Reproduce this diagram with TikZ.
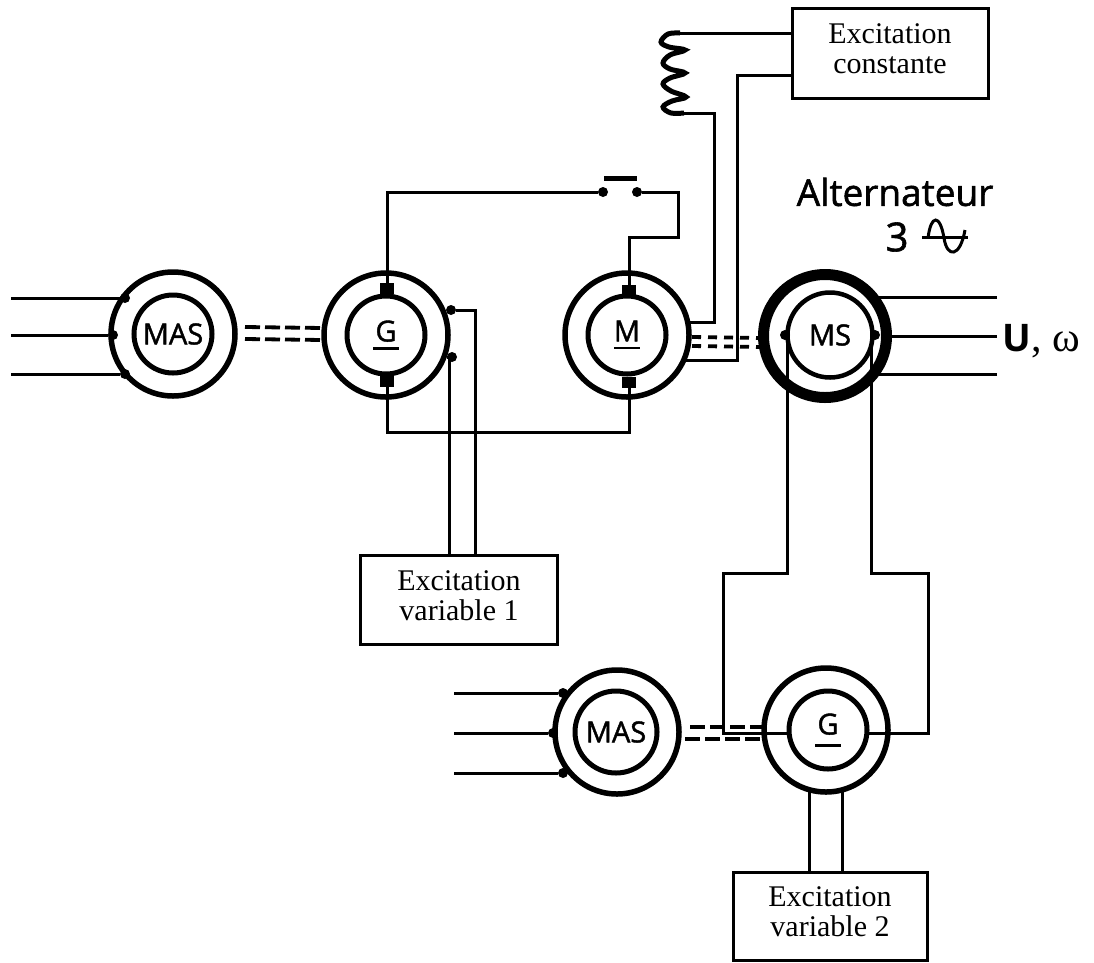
\documentclass[tikz,border=0pt]{standalone}
\usepackage{fontspec}
\setmainfont{Liberation Serif}
\setsansfont{Open Sans}
\newfontfamily\machfont[FakeBold=1.5]{Open Sans}
\usetikzlibrary{positioning}
\newcommand{\machlabel}[2][-21pt]{#2\\[#1]\rule{26pt}{2.8pt}}
\newcommand{\lifted}{\rule[-8pt]{0pt}{0pt}}

\begin{document}
\begin{tikzpicture}[x=1pt,y=-1pt,align=center]
    \tikzstyle{wire} = [line width=3pt,line join=miter]
    \tikzstyle{shaft} = [line width=3.8pt,dash pattern=on 15pt off 5pt]
    \tikzstyle{ring} = [draw,circle,line width=5.5pt,minimum size=124pt,inner sep=0pt,outer sep=0pt]
    \tikzstyle{rotor} = [draw,circle,line width=5pt,minimum size=78pt,inner sep=0pt,outer sep=0pt,font=\machfont\fontsize{29}{29}\selectfont]
    \tikzstyle{brush} = [fill,rectangle,minimum width=14pt,minimum height=11pt,inner sep=0pt,outer sep=0pt]
    \tikzstyle{dot} = [fill,circle,minimum size=10pt,inner sep=0pt,outer sep=0pt]
    \tikzstyle{supply} = [draw,rectangle,line width=3pt,inner sep=0pt,outer sep=0pt,font=\fontsize{30}{30}\selectfont]
      \useasboundingbox (0,0) rectangle (1094,962);
      % three-phase lines leaving the alternator
      \foreach \name/\py in {g/297,h/336,i/374} {
        \coordinate (out\name) at (997,\py);
        \draw[wire] (out\name) -- (820,\py);
      }
      % machines
      \node[ring,fill=white] (MASa) at (173,334) {};
      \node[rotor] (MASaIn) at (173,334) {MAS};
      \node[ring,fill=white] (Ga) at (386,335) {};
      \node[rotor] (GaIn) at (386,335) {\machlabel{G}};
      \node[ring,fill=white] (Mo) at (627,335) {};
      \node[rotor] (MoIn) at (627,335) {\machlabel{M}};
      \node[ring,fill=white,line width=11pt,minimum size=123pt] (MS) at (825,336) {};
      \node[rotor,minimum size=85pt,line width=4.5pt] (MSIn) at (830,335) {MS};
      \node[ring,fill=white] (MASb) at (617,732) {};
      \node[rotor,minimum size=82pt] (MASbIn) at (616,732) {MAS};
      \node[ring,fill=white] (Gb) at (826,730) {};
      \node[rotor] (GbIn) at (828,730) {\machlabel[-17pt]{G}};
      % excitation boxes
      \node[supply,minimum width=196pt,minimum height=90pt] (exConst) at (890,53) {Excitation\\constante\lifted};
      \node[supply,minimum width=197pt,minimum height=89pt] (exVarA) at (459,600) {Excitation\\variable 1\lifted};
      \node[supply,minimum width=194pt,minimum height=88pt] (exVarB) at (830,916) {Excitation\\variable 2\lifted};
      % brushes
      \node[brush] (GaTop) at (387,288) {};
      \node[brush] (GaBot) at (387,381) {};
      \node[brush] (MoTop) at (629,290) {};
      \node[brush] (MoBot) at (629,382) {};
      % switch
      \node[dot] (swL) at (603,192) {};
      \node[dot] (swR) at (637,192) {};
      \node[fill,rectangle,minimum width=33pt,minimum height=5pt,inner sep=0pt] (swBar) at (620,178) {};
      \draw[wire] (GaTop) -- (387,192) -- (swL);
      \draw[wire] (swR) -- (678,192) -- (678,237) -- (MoTop.north |- 0,237) -- (MoTop);
      \draw[wire] (GaBot) -- (387,432) -- (MoBot.south |- 0,432) -- (MoBot);
      % dots and three-phase lines
      \foreach \name/\px/\py/\fx in {a/125/298/11,b/113/335/11,c/125/374/11,d/563/693/454,e/553/733/454,f/563/773/454} {
        \node[dot] (in\name) at (\px,\py) {};
        \coordinate (free\name) at (\fx,\py);
        \draw[wire] (free\name) -- (in\name);
      }
      % shafts
      \foreach \dy in {-7,5} \draw[shaft] ([shift={(10,\dy)}]MASa.east) -- ([shift={(-1,\dy)}]Ga.west);
      \foreach \dy in {2,11} \draw[shaft,dash pattern=on 9pt off 7pt] ([shift={(3,\dy)}]Mo.east) -- ([shift={(-3,\dy)}]MS.west);
      \draw[shaft] ([shift={(11,-5)}]MASb.east) -- ([shift={(-2,-3)}]Gb.west);
      \draw[shaft] ([shift={(6,7)}]MASb.east) -- ([shift={(-3,9)}]Gb.west);
      % excitation 1
      \node[dot] (GaOutA) at (451,310) {};
      \node[dot] (GaOutB) at (452,357) {};
      \draw[wire] (GaOutA) -- (475,310) -- (exVarA.north -| 475,0);
      \draw[wire] (GaOutB) -- (449,357) -- (exVarA.north -| 449,0);
      % coil and constant excitation
      \coordinate (coilTop) at (680,33);
      \coordinate (coilBot) at (684,113);
      \draw[wire] (exConst.west |- coilTop) -- (coilTop);
      \draw[line width=5pt] plot[smooth,tension=0.6] coordinates {(coilTop) (668,34) (661,42) (669,47) (685,50) (670,55) (663,63) (670,69) (685,73) (670,78) (663,84) (671,91) (686,97) (672,101) (663,107) (671,113) (coilBot)};
      \draw[wire] (coilBot) -- (714,113) -- (714,322) -- (Mo.east |- 0,322);
      \draw[wire] (exConst.west |- 0,75) -- (737,75) -- (737,360) -- (684,360);
      % stator lines down to second generator
      \node[dot] (MSa) at (785,335) {};
      \node[dot] (MSb) at (875,335) {};
      \draw[wire] (MSa) ++(2,0) -- (787,573) -- (723,573) -- (723,733) -- (GbIn.west |- 0,733);
      \draw[wire] (MSb) ++(-4,0) -- (871,573) -- (928,573) -- (928,733) -- (GbIn.east |- 0,733);
      \draw[wire] (Gb.south -| 809,0) ++(0,-2) -- (exVarB.north -| 809,0);
      \draw[wire] (Gb.south -| 842,0) ++(0,-2) -- (exVarB.north -| 842,0);
      % labels
      \node[font=\machfont\fontsize{37}{37}\selectfont] (altName) at (895,192) {Alternateur};
      \node[font=\machfont\fontsize{40}{40}\selectfont] (altPhases) at (897,237) {3};
      \coordinate (acLeft) at (922,237);
      \coordinate (acRight) at (968,237);
      \draw[line width=3pt] (acLeft) -- (acRight);
      \draw[line width=3pt] (928,238) .. controls (931,214) and (940,214) .. (944,238) .. controls (947,258) and (960,258) .. (965,230);
      \node[anchor=base west,font=\sffamily\bfseries\fontsize{38}{38}\selectfont,inner sep=0pt] (voltage) at (1002,351) {U};
      \node[anchor=base west,font=\fontsize{42}{42}\selectfont,inner sep=0pt] (speed) at (voltage.base east) {, ω};
  \end{tikzpicture}
\end{document}
